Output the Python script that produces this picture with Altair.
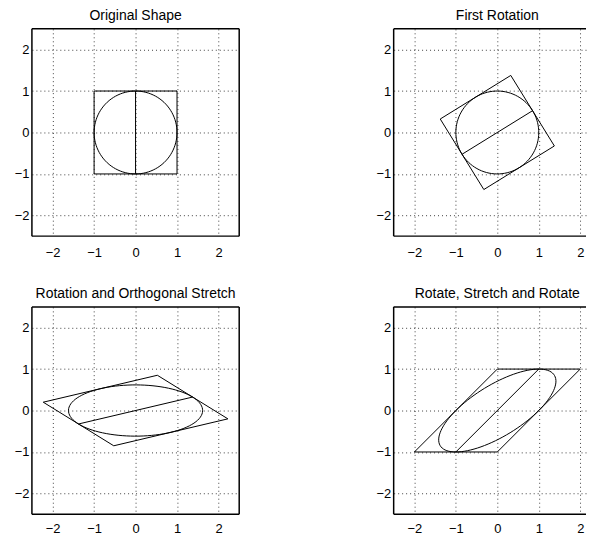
import numpy as np
import pandas as pd
import altair as alt

# ---- data ----
SQUARE_X = [-1, 1, 1, -1, -1]
SQUARE_Y = [-1, -1, 1, 1, -1]
LINE_X = [0, 0]
LINE_Y = [-1, 1]
CIRCLE_N = 101
ROT1_DEG = -58.2825      # first rotation (V')
STRETCH = [1.618, 0.618]  # singular values (S)
ROT2_DEG = 31.7175       # second rotation (U)
TITLES = ["Original Shape", "First Rotation",
          "Rotation and Orthogonal Stretch", "Rotate, Stretch and Rotate"]
TICKS = [-2, -1, 0, 1, 2]

FONT = "Liberation Sans"
FULL = 208      # plot size in px
CLIPPED = 193   # right-hand panels run off the page
XAXIS_EXT = 22
YAXIS_EXT = 24


def rot(deg):
    a = np.deg2rad(deg)
    return np.array([[np.cos(a), -np.sin(a)], [np.sin(a), np.cos(a)]])


t = np.linspace(0, 2 * np.pi, CIRCLE_N)
shapes = {
    "square": np.array([SQUARE_X, SQUARE_Y], dtype=float),
    "circle": np.vstack([np.cos(t), np.sin(t)]),
    "line": np.array([LINE_X, LINE_Y], dtype=float),
}

M0 = np.eye(2)
M1 = rot(ROT1_DEG)
M2 = np.diag(STRETCH) @ M1
M3 = rot(ROT2_DEG) @ M2
MATS = [M0, M1, M2, M3]


def frame_df(M):
    rows = []
    for name, pts in shapes.items():
        p = M @ pts
        for i in range(p.shape[1]):
            rows.append({"x": p[0, i], "y": p[1, i], "shape": name, "order": i})
    return pd.DataFrame(rows)


one = pd.DataFrame({"a": [0]})


def panel(df, title, w, dx, right_edge, xpad):
    xmax = -2.5 + 5.0 * w / FULL
    xs = alt.Scale(domain=[-2.5, xmax], nice=False, zero=False)
    ys = alt.Scale(domain=[-2.5, 2.5], nice=False, zero=False)
    common = dict(values=TICKS, grid=True, gridDash=[1, 3], gridColor="#000",
                  gridOpacity=0.75, gridWidth=1, domain=False, ticks=False,
                  labelFontSize=13, labelFont=FONT, labelColor="#000",
                  title=None, labelFlush=False, format="d")
    xaxis = alt.Axis(labelPadding=xpad, minExtent=XAXIS_EXT, maxExtent=XAXIS_EXT, **common)
    yaxis = alt.Axis(labelPadding=3, minExtent=YAXIS_EXT, maxExtent=YAXIS_EXT, **common)
    lines = alt.Chart(df).mark_line(color="black", strokeWidth=1, clip=True).encode(
        x=alt.X("x:Q", scale=xs, axis=xaxis),
        y=alt.Y("y:Q", scale=ys, axis=yaxis),
        detail="shape:N",
        order="order:Q",
    )
    rule = alt.Chart(one).mark_rule(color="black", strokeWidth=1.5)
    layers = [
        lines,
        rule.encode(x=alt.value(0), x2=alt.value(w), y=alt.value(0)),
        rule.encode(x=alt.value(0), x2=alt.value(w), y=alt.value(FULL)),
        rule.encode(x=alt.value(0), y=alt.value(0), y2=alt.value(FULL)),
    ]
    if right_edge:
        layers.append(rule.encode(x=alt.value(w), y=alt.value(0), y2=alt.value(FULL)))
    return alt.layer(*layers).properties(
        width=w, height=FULL,
        title=alt.TitleParams(text=title, fontSize=14, font=FONT, fontWeight="normal",
                              color="black", offset=5, dx=dx, anchor="middle"),
    )


dfs = [frame_df(M) for M in MATS]
p1 = panel(dfs[0], TITLES[0], FULL, 0, True, 10)
p2 = panel(dfs[1], TITLES[1], CLIPPED, (FULL - CLIPPED) / 2, False, 10)
p3 = panel(dfs[2], TITLES[2], FULL, 0, True, 8)
p4 = panel(dfs[3], TITLES[3], CLIPPED, (FULL - CLIPPED) / 2, False, 8)

row1 = alt.hconcat(p1, p2, spacing=130)
row2 = alt.hconcat(p3, p4, spacing=130)
chart = alt.vconcat(row1, row2, spacing=28).properties(
    padding={"left": 0, "top": 0, "right": 0, "bottom": 0}
).configure_view(stroke=None)

chart.save("out.html", embed_options={"renderer": "svg", "actions": False})
